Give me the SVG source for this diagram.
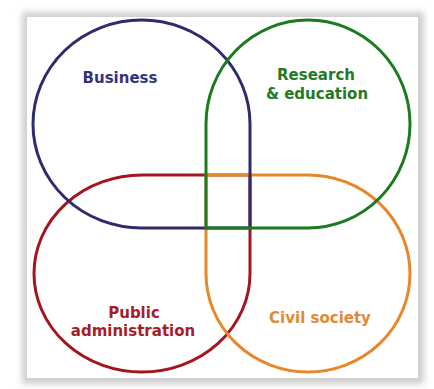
<svg xmlns="http://www.w3.org/2000/svg" width="434" height="389" viewBox="0 0 434 389">
  <defs>
    <filter id="blur" x="-10%" y="-10%" width="120%" height="120%">
      <feGaussianBlur stdDeviation="3"/>
    </filter>
  </defs>
  <style>
    .shape { fill: none; stroke-width: 3; stroke-linejoin: miter; }
    .lbl { font-family: "DejaVu Sans", Verdana, sans-serif; font-weight: bold; font-size: 15px; text-anchor: middle; }
  </style>
  <rect x="0" y="0" width="434" height="389" fill="#ffffff"/>
  <g id="panel">
    <rect x="22" y="12" width="402" height="372" fill="#cfcfcf" filter="url(#blur)"/>
    <rect x="27" y="17" width="391" height="361" fill="#ffffff"/>
  </g>
  <g id="connectors"></g>
  <g id="public">
    <path class="shape" stroke="#a2161f" d="M250 273.5 L250 175 L142 175 A108 98.5 0 1 0 250 273.5 Z"/>
    <text class="lbl" x="134" y="318" fill="#a31e28">Public</text>
    <text class="lbl" x="133" y="336" fill="#a31e28">administration</text>
  </g>
  <g id="civil">
    <path class="shape" stroke="#e8872a" d="M206 273.5 L206 175 L308 175 A102 98.5 0 1 1 206 273.5 Z"/>
    <text class="lbl" x="320" y="323" fill="#e08a35">Civil society</text>
  </g>
  <g id="business">
    <path class="shape" stroke="#2d2c6c" d="M250 124 L250 228 L141.5 228 A108.5 104 0 1 1 250 124 Z"/>
    <text class="lbl" x="120" y="83" fill="#34337a">Business</text>
  </g>
  <g id="research">
    <path class="shape" stroke="#1c7a1f" d="M206 124 L206 228 L308 228 A102 104 0 1 0 206 124 Z"/>
    <text class="lbl" x="316" y="80" fill="#237a26">Research</text>
    <text class="lbl" x="317" y="99" fill="#237a26">&amp; education</text>
  </g>
</svg>
